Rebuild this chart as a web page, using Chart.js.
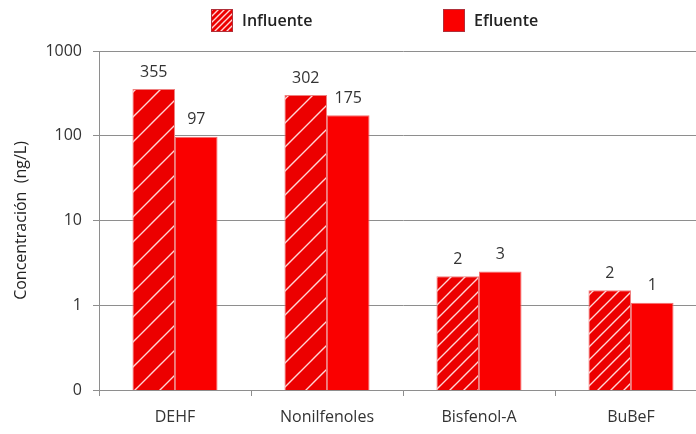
<!DOCTYPE html>
<html>
<head>
<meta charset="utf-8">
<script src="https://cdn.jsdelivr.net/npm/chart.js@4/dist/chart.umd.min.js"></script>
<style>
    html, body { margin: 0; padding: 0; background: #fff; overflow: hidden; }
</style>
</head>
<body>
<canvas id="chart" width="707" height="434"></canvas>
<script>
// data (labels on the bars are rounded)
const categories = ["DEHF", "Nonilfenoles", "Bisfenol-A", "BuBeF"];
const seriesNames = ["Influente", "Efluente"];
const influente = [355, 302, 2.2, 1.5];
const efluente = [97, 175, 2.5, 1.07];
const yTickValues = [0.1, 1, 10, 100, 1000];
const yTickLabels = ["0", "1", "10", "100", "1000"];

// styling: hatch spacing differs per bar in the original image
const hatchSpacing = [25, 24, 14, 13];
const legendX = [211, 443];

const gridColor = "#8e8e8e";
const textColor = "#333";
const influenteRed = "#ec0000";
const efluenteRed = "#fa0000";
const hatchLine = "#ffd6d6";
Chart.defaults.font.family = "'Open Sans', sans-serif";

const ctx = document.getElementById("chart").getContext("2d");

function hatch(base, line, p) {
    const c = document.createElement("canvas");
    c.width = c.height = p;
    const g = c.getContext("2d");
    g.fillStyle = base;
    g.fillRect(0, 0, p, p);
    g.strokeStyle = line;
    g.lineWidth = 1.4;
    g.beginPath();
    for (const off of [-p, 0, p]) {
        g.moveTo(-2 + off, p + 2);
        g.lineTo(p + 2 + off, -2);
    }
    g.stroke();
    return ctx.createPattern(c, "repeat");
}

const legendFill = [hatch(influenteRed, hatchLine, 6), efluenteRed];

const valueLabels = {
    id: "valueLabels",
    afterDatasetsDraw(chart) {
        const c = chart.ctx;
        c.save();
        c.font = "16px 'Open Sans'";
        c.fillStyle = textColor;
        c.textAlign = "center";
        c.textBaseline = "middle";
        chart.data.datasets.forEach((ds, i) => {
            chart.getDatasetMeta(i).data.forEach((bar, j) => {
                c.fillText(Math.round(ds.data[j]), bar.x, bar.y - 17);
            });
        });
        c.restore();
    }
};

const topLegend = {
    id: "topLegend",
    afterDraw(chart) {
        const c = chart.ctx;
        c.save();
        c.font = "600 16px 'Open Sans'";
        c.textBaseline = "middle";
        chart.data.datasets.forEach((ds, i) => {
            const x = legendX[i];
            c.fillStyle = legendFill[i];
            c.fillRect(x, 9, 22, 23);
            c.strokeStyle = "#b0303a";
            c.lineWidth = 1;
            c.strokeRect(x + 0.5, 9.5, 21, 22);
            c.fillStyle = "#222";
            c.fillText(ds.label, x + 31, 21);
        });
        c.restore();
    }
};

new Chart(ctx, {
    type: "bar",
    data: {
        labels: categories,
        datasets: [
            {
                label: seriesNames[0],
                data: influente,
                backgroundColor: hatchSpacing.map(p => hatch(influenteRed, hatchLine, p)),
                borderColor: "#ef8080",
                borderWidth: 1,
            },
            {
                label: seriesNames[1],
                data: efluente,
                backgroundColor: efluenteRed,
                borderColor: "#f27070",
                borderWidth: 1,
            },
        ],
    },
    options: {
        responsive: false,
        animation: false,
        datasets: { bar: { categoryPercentage: 0.56, barPercentage: 1.0 } },
        layout: { padding: { top: 51, right: 0, bottom: 0, left: 0 } },
        plugins: {
            legend: { display: false },
            tooltip: { enabled: false },
        },
        scales: {
            x: {
                afterFit: s => { s.height = 44; },
                grid: { drawOnChartArea: false, tickLength: 6, color: gridColor, offset: true },
                border: { color: gridColor },
                ticks: { color: textColor, font: { size: 16 }, padding: 12 },
            },
            y: {
                type: "logarithmic",
                min: 0.1,
                max: 1000,
                afterFit: s => { s.width = 99; },
                afterBuildTicks: s => { s.ticks = yTickValues.map(v => ({ value: v })); },
                grid: { color: gridColor, tickLength: 6 },
                border: { color: gridColor },
                ticks: {
                    color: textColor,
                    font: { size: 16 },
                    padding: 11,
                    callback: v => yTickLabels[yTickValues.indexOf(v)],
                },
                title: {
                    display: true,
                    text: "Concentración  (ng/L)",
                    color: "#222",
                    font: { size: 16 },
                    padding: { top: 12, bottom: 0 },
                },
            },
        },
    },
    plugins: [valueLabels, topLegend],
});
</script>
</body>
</html>
